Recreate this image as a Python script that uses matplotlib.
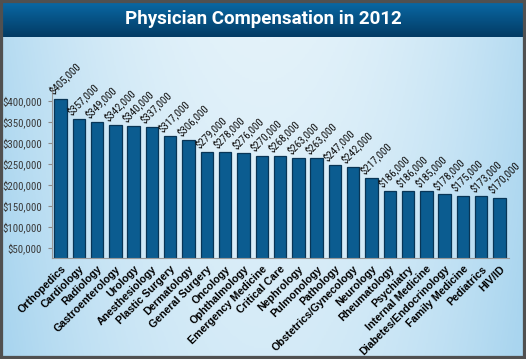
import numpy as np
import matplotlib.pyplot as plt
from matplotlib import font_manager
from matplotlib.patches import Rectangle
from matplotlib.colors import LinearSegmentedColormap

# data
specialties = ["Orthopedics", "Cardiology", "Radiology", "Gastroenterology", "Urology",
               "Anesthesiology", "Plastic Surgery", "Dermatology", "General Surgery",
               "Oncology", "Ophthalmology", "Emergency Medicine", "Critical Care",
               "Nephrology", "Pulmonology", "Pathology", "Obstetrics/Gynecology",
               "Neurology", "Rheumatology", "Psychiatry", "Internal Medicine",
               "Diabetes/Endocrinology", "Family Medicine", "Pediatrics", "HIV/ID"]
compensation = [405000, 357000, 349000, 342000, 340000, 337000, 317000, 306000,
                279000, 278000, 276000, 270000, 268000, 263000, 263000, 247000,
                242000, 217000, 186000, 186000, 185000, 178000, 175000, 173000, 170000]
yticks = [50000, 100000, 150000, 200000, 250000, 300000, 350000, 400000]

names = {f.name for f in font_manager.fontManager.ttflist}
narrow = "Liberation Sans"
for cand in ["Liberation Sans Narrow", "Arial Narrow", "Roboto Condensed", "Archivo Narrow",
             "Asap Condensed", "Barlow Condensed"]:
    if cand in names:
        narrow = cand
        break
nsize = 7.8 if narrow != "Liberation Sans" else 6.6

W, H = 526, 359
fig = plt.figure(figsize=(W / 100, H / 100), dpi=100)

# background, in pixel coords
bg = fig.add_axes([0, 0, 1, 1])
bg.set_xlim(0, W)
bg.set_ylim(H, 0)
bg.axis("off")
xx = np.linspace(-1, 1, 300)
yy = np.linspace(0, 1, 200)
X, Y = np.meshgrid(xx, yy)
t = np.clip(np.abs(X) ** 2 * 0.8 + Y * 0.25, 0, 1)
light = LinearSegmentedColormap.from_list("l", ["#e3f2fa", "#a9d5ef"])
bg.imshow(t, cmap=light, extent=[0, W, H, 36], aspect="auto", vmin=0, vmax=1)
band = LinearSegmentedColormap.from_list("b", ["#0a6ba8", "#033b64"])
bg.imshow(np.linspace(0, 1, 50).reshape(-1, 1), cmap=band, extent=[0, W, 37, 0], aspect="auto")
bg.add_patch(Rectangle((0, 0), W, H, fill=False, ec="#505050", lw=4.5))
bg.text(W / 2, 19, "Physician Compensation in 2012", color="white", fontsize=13.5,
        fontweight="bold", family="Roboto", ha="center", va="center")

# chart
ax = fig.add_axes([51.7 / W, 1 - 258.3 / H, 457 / W, (258.3 - 89) / H])
ax.patch.set_alpha(0)
x = np.arange(len(specialties))
ax.bar(x, compensation, width=0.68, color="#0b5c90", edgecolor="#083556", linewidth=0.9)
ax.set_xlim(-0.48, 24.5)
ax.set_ylim(26000, 428000)
ax.set_yticks(yticks)
ax.set_yticklabels(["${:,}".format(v) for v in yticks], family=narrow, fontsize=nsize,
                   color="#3a3a3a")
ax.tick_params(axis="y", length=3, color="#8a8a8a", pad=4)
ax.set_xticks(x)
ax.set_xticklabels(specialties, rotation=45, ha="right", rotation_mode="anchor",
                   fontsize=7.7, fontweight="bold", family="Liberation Sans")
ax.tick_params(axis="x", length=0, pad=4)
for s in ["top", "right"]:
    ax.spines[s].set_visible(False)
for s in ["left", "bottom"]:
    ax.spines[s].set_color("#999999")

for i, v in enumerate(compensation):
    ax.annotate("${:,}".format(v), (i - 0.34, v), xytext=(0, 1.5), textcoords="offset points",
                rotation=45, rotation_mode="anchor", ha="left", va="bottom",
                family=narrow, fontsize=nsize, color="#111111")

fig.savefig("out.png", dpi=100)
